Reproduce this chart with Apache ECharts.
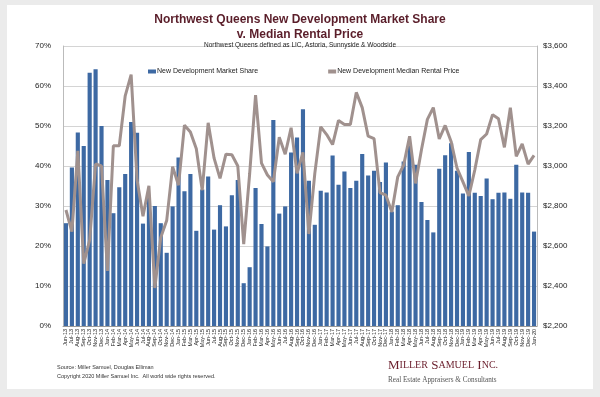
<!DOCTYPE html>
<html>
<head>
<meta charset="utf-8">
<script src="https://cdn.jsdelivr.net/npm/echarts@6/dist/echarts.min.js"></script>
<style>
  html, body { margin: 0; padding: 0; background: #ebebeb; }
  #card { position: absolute; left: 7px; top: 5px; width: 586px; height: 384px; background: #fff; }
  #chart { position: absolute; left: 0; top: 0; width: 600px; height: 397px; }
</style>
</head>
<body>
<div id="card"></div>
<div id="chart"></div>
<script>
// months Jun-13 .. Jan-20
const months = [
  "Jun-13","Jul-13","Aug-13","Sep-13","Oct-13","Nov-13","Dec-13",
  "Jan-14","Feb-14","Mar-14","Apr-14","May-14","Jun-14","Jul-14","Aug-14","Sep-14","Oct-14","Nov-14","Dec-14",
  "Jan-15","Feb-15","Mar-15","Apr-15","May-15","Jun-15","Jul-15","Aug-15","Sep-15","Oct-15","Nov-15","Dec-15",
  "Jan-16","Feb-16","Mar-16","Apr-16","May-16","Jun-16","Jul-16","Aug-16","Sep-16","Oct-16","Nov-16","Dec-16",
  "Jan-17","Feb-17","Mar-17","Apr-17","May-17","Jun-17","Jul-17","Aug-17","Sep-17","Oct-17","Nov-17","Dec-17",
  "Jan-18","Feb-18","Mar-18","Apr-18","May-18","Jun-18","Jul-18","Aug-18","Sep-18","Oct-18","Nov-18","Dec-18",
  "Jan-19","Feb-19","Mar-19","Apr-19","May-19","Jun-19","Jul-19","Aug-19","Sep-19","Oct-19","Nov-19","Dec-19",
  "Jan-20"
];

// new development market share (%)
const marketShare = [
  25.7, 39.6, 48.4, 45.0, 63.3, 64.2, 50.0,
  36.5, 28.2, 34.7, 38.0, 51.0, 48.3, 25.6, 32.0, 30.0, 25.7, 18.3, 29.9,
  42.1, 33.7, 38.0, 23.8, 34.1, 37.4, 24.1, 30.2, 24.9, 32.7, 36.5, 10.7,
  14.7, 34.5, 25.5, 19.9, 51.5, 28.1, 29.9, 43.4, 47.1, 54.2, 36.3, 25.3,
  33.8, 33.4, 42.6, 35.3, 38.6, 34.5, 36.3, 43.0, 37.6, 38.8, 36.0, 40.9,
  28.6, 30.2, 41.1, 45.1, 40.3, 31.0, 26.5, 23.4, 39.3, 42.7, 45.7, 38.8,
  33.1, 43.5, 33.3, 32.5, 36.9, 31.7, 33.3, 33.4, 31.8, 40.3, 33.4, 33.3,
  23.6
];

// new development median rental price ($)
const medianRent = [
  2780, 2672, 3076, 2512, 2630, 3010, 3000,
  2475, 3101, 3101, 3351, 3457, 2930, 2749, 2901, 2390, 2643, 2727, 2997,
  2904, 3204, 3170, 3086, 2879, 3216, 3039, 2938, 3059, 3056, 3000, 2609,
  2960, 3354, 3014, 2955, 2921, 3144, 3059, 3191, 2963, 3068, 2660, 2963,
  3196, 3157, 3107, 3228, 3208, 3208, 3368, 3292, 3149, 3137, 2867, 2854,
  2770, 2946, 3005, 3149, 2913, 3081, 3233, 3292, 3135, 3203, 3123, 2989,
  2921, 2850, 2980, 3132, 3160, 3257, 3236, 3093, 3292, 3048, 3110, 3009,
  3053
];

const chart = echarts.init(document.getElementById("chart"));

const option = {
  animation: false,
  title: [
    {
      text: "Northwest Queens New Development Market Share\nv. Median Rental Price",
      left: "center", top: 7,
      textStyle: { fontFamily: "Liberation Sans", fontSize: 12, fontWeight: "bold", color: "#5a1e2a", lineHeight: 15 }
    },
    {
      text: "Northwest Queens defined as LIC, Astoria, Sunnyside & Woodside",
      left: "center", top: 37,
      textStyle: { fontFamily: "Liberation Sans", fontSize: 6.5, fontWeight: "normal", color: "#222" }
    }
  ],
  legend: {
    top: 63, left: 143, itemGap: 70,
    itemWidth: 8, itemHeight: 4,
    textStyle: { fontFamily: "Liberation Sans", fontSize: 7, color: "#222", padding: [0, 0, 0, -4] },
    data: [
      { name: "New Development Market Share", icon: "rect" },
      { name: "New Development Median Rental Price", icon: "rect", itemStyle: { color: "#a0918e" } }
    ]
  },
  grid: { left: 63, right: 63, top: 46, bottom: 71 },
  xAxis: {
    type: "category",
    data: months,
    axisLine: { lineStyle: { color: "#999" } },
    axisTick: { show: false },
    axisLabel: { interval: 0, rotate: 90, fontSize: 5.5, color: "#222", fontFamily: "Liberation Sans", margin: 3 }
  },
  yAxis: [
    {
      type: "value", min: 0, max: 70, interval: 10,
      axisLine: { show: true, lineStyle: { color: "#bbb" } },
      axisTick: { show: false },
      splitLine: { lineStyle: { color: "#d4d4d4" } },
      axisLabel: { formatter: "{value}%", fontSize: 8, color: "#222", fontFamily: "Liberation Sans", margin: 12 }
    },
    {
      type: "value", min: 2200, max: 3600, interval: 200,
      axisLine: { show: true, lineStyle: { color: "#bbb" } },
      axisTick: { show: false },
      splitLine: { show: false },
      axisLabel: {
        formatter: v => "$" + v.toLocaleString("en-US"),
        fontSize: 8, color: "#222", fontFamily: "Liberation Sans", margin: 6
      }
    }
  ],
  series: [
    {
      name: "New Development Market Share",
      type: "bar",
      data: marketShare,
      barCategoryGap: "30%",
      itemStyle: { color: "#3d69a3" }
    },
    {
      name: "New Development Median Rental Price",
      type: "line",
      yAxisIndex: 1,
      data: medianRent,
      symbol: "none",
      lineStyle: { color: "#a0918e", width: 3 },
      itemStyle: { color: "#a0918e" }
    }
  ],
  graphic: [
    {
      type: "text", left: 57, top: 364,
      style: { text: "Source: Miller Samuel, Douglas Elliman", fontFamily: "Liberation Sans", fontSize: 5.5, fill: "#333" }
    },
    {
      type: "text", left: 57, top: 373,
      style: { text: "Copyright 2020 Miller Samuel Inc.  All world wide rights reserved.", fontFamily: "Liberation Sans", fontSize: 5.5, fill: "#333" }
    },
    {
      type: "text", left: 388, top: 359,
      style: {
        text: "{b|M}{s|ILLER} {b|S}{s|AMUEL} {b|I}{s|NC.}",
        rich: {
          b: { fontFamily: "Liberation Serif", fontSize: 13, fill: "#6a1e2c" },
          s: { fontFamily: "Liberation Serif", fontSize: 10, fill: "#6a1e2c" }
        }
      }
    },
    {
      type: "text", left: 388, top: 377,
      style: { text: "Real Estate Appraisers & Consultants", fontFamily: "Liberation Serif", fontSize: 7.2, fill: "#555" }
    }
  ]
};

chart.setOption(option);
</script>
</body>
</html>
